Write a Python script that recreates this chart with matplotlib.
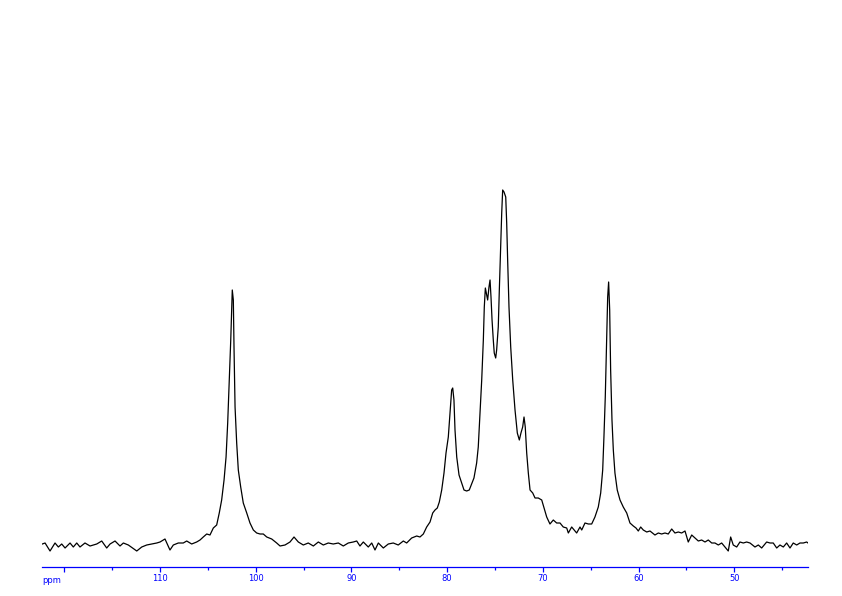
import numpy as np
import matplotlib.pyplot as plt
from matplotlib.ticker import MultipleLocator, FixedLocator, FuncFormatter

# 13C spectrum trace: chemical shift (ppm) and intensity (arb. units)
ppm = [
    122.3, 122.01, 121.49, 120.97, 120.62, 120.27, 119.92, 119.40, 119.06, 118.70,
    118.36, 117.84, 117.31, 116.61, 116.09, 115.57, 115.22, 114.70, 114.18, 113.83,
    113.31, 112.43, 111.91, 111.39, 110.87, 110.34, 110.00, 109.48, 108.96, 108.61,
    108.09, 107.57, 107.21, 106.69, 106.17, 105.82, 105.48, 105.12, 104.78, 104.43,
    104.08, 103.81, 103.56, 103.31, 103.10, 102.93, 102.76, 102.61, 102.51, 102.45,
    102.34, 102.27, 102.16, 101.99, 101.82, 101.57, 101.30, 100.94, 100.60, 100.25,
    99.90, 99.55, 99.21, 98.85, 98.33, 97.81, 97.46, 96.94, 96.42, 96.00,
    95.55, 95.03, 94.51, 93.98, 93.46, 92.94, 92.42, 91.90, 91.37, 90.85,
    90.33, 89.81, 89.45, 89.11, 88.76, 88.24, 87.88, 87.54, 87.19, 86.67,
    86.15, 85.63, 85.11, 84.58, 84.23, 83.71, 83.18, 82.84, 82.49, 82.14,
    81.79, 81.51, 81.27, 81.03, 80.82, 80.57, 80.33, 80.12, 79.88, 79.70,
    79.53, 79.42, 79.29, 79.18, 79.00, 78.76, 78.48, 78.24, 77.96, 77.69,
    77.44, 77.20, 76.92, 76.75, 76.57, 76.39, 76.22, 76.12, 76.01, 75.87,
    75.77, 75.63, 75.52, 75.42, 75.31, 75.18, 75.08, 74.93, 74.83, 74.66,
    74.55, 74.41, 74.30, 74.20, 74.06, 73.88, 73.78, 73.68, 73.54, 73.36,
    73.15, 72.91, 72.67, 72.46, 72.29, 72.11, 71.97, 71.84, 71.69, 71.52,
    71.34, 71.06, 70.82, 70.48, 70.12, 69.88, 69.60, 69.26, 68.91, 68.56,
    68.21, 67.87, 67.51, 67.34, 66.99, 66.65, 66.47, 66.12, 65.94, 65.60,
    65.25, 64.90, 64.56, 64.21, 63.96, 63.75, 63.62, 63.48, 63.33, 63.23,
    63.13, 63.02, 62.92, 62.78, 62.64, 62.47, 62.23, 61.94, 61.60, 61.24,
    60.90, 60.55, 60.27, 60.03, 59.78, 59.51, 59.15, 58.81, 58.29, 57.94,
    57.59, 57.24, 56.90, 56.54, 56.20, 55.85, 55.50, 55.15, 54.81, 54.45,
    54.11, 53.76, 53.41, 53.06, 52.72, 52.36, 52.02, 51.67, 51.32, 50.97,
    50.63, 50.38, 50.11, 49.75, 49.41, 49.06, 48.71, 48.36, 47.84, 47.49,
    47.14, 46.62, 46.27, 45.93, 45.57, 45.23, 44.88, 44.53, 44.18, 43.84,
    43.48, 43.14, 42.79, 42.44, 42.30,
]
intensity = [
    1, 2, -6, 2, -2, 1, -3, 2, -2, 2,
    -2, 2, -1, 1, 4, -3, 1, 4, -1, 2,
    0, -6, -2, 0, 1, 2, 3, 6, -5, 0,
    2, 2, 4, 1, 3, 5, 8, 11, 10, 17,
    20, 32, 45, 65, 88, 122, 165, 205, 238, 255,
    245, 198, 138, 102, 75, 58, 42, 32, 22, 15,
    12, 11, 11, 8, 6, 2, -1, 0, 3, 8,
    3, 0, 2, -1, 3, 0, 2, 1, 2, -1,
    2, 3, 4, -1, 3, -2, 2, -5, 2, -3,
    1, 2, 0, 4, 2, 7, 9, 8, 11, 18,
    23, 32, 35, 37, 43, 55, 72, 92, 108, 132,
    155, 157, 145, 115, 88, 70, 62, 55, 54, 55,
    61, 67, 82, 98, 132, 165, 205, 238, 257, 250,
    245, 258, 265, 248, 225, 205, 192, 187, 195, 218,
    255, 298, 332, 355, 353, 348, 322, 285, 238, 198,
    165, 135, 112, 105, 112, 118, 128, 118, 92, 72,
    55, 52, 47, 47, 45, 37, 28, 21, 25, 22,
    22, 18, 17, 12, 18, 14, 12, 18, 15, 22,
    21, 21, 28, 38, 52, 75, 108, 148, 208, 248,
    263, 235, 175, 125, 95, 72, 55, 45, 38, 32,
    22, 19, 17, 14, 18, 15, 13, 14, 10, 12,
    11, 12, 11, 16, 12, 13, 12, 14, 3, 10,
    7, 4, 5, 3, 5, 2, 2, 0, 2, -2,
    -6, 8, 0, -2, 3, 2, 3, 2, -2, 0,
    -3, 3, 2, 2, -3, 0, -2, 2, -3, 2,
    0, 2, 2, 3, 2,
]

major_ticks = [120, 110, 100, 90, 80, 70, 60, 50]
axis_blue = "#0000ff"

fig = plt.figure(figsize=(8.42, 5.96), dpi=100)
ax = fig.add_axes([42 / 842, 29 / 596, 766 / 842, 567 / 596])

ax.plot(ppm, intensity, color="black", lw=0.9)

ax.set_xlim(122.33, 42.30)
ax.set_ylim(-22, 545)

for side in ("top", "left", "right"):
    ax.spines[side].set_visible(False)
ax.spines["bottom"].set_color(axis_blue)
ax.spines["bottom"].set_linewidth(0.9)

ax.yaxis.set_visible(False)
ax.xaxis.set_major_locator(FixedLocator(major_ticks))
ax.xaxis.set_minor_locator(MultipleLocator(5))
ax.xaxis.set_major_formatter(FuncFormatter(lambda v, p: "" if v >= 120 else f"{v:.0f}"))
ax.tick_params(axis="x", which="major", length=3.5, width=0.9, color=axis_blue,
               labelcolor=axis_blue, labelsize=6, pad=1.5)
ax.tick_params(axis="x", which="minor", length=2, width=0.9, color=axis_blue)

ax.text(0.0, -0.016, "ppm", transform=ax.transAxes, color=axis_blue,
        fontsize=6, ha="left", va="top")

fig.savefig("out.png", dpi=100)
plt.close(fig)
